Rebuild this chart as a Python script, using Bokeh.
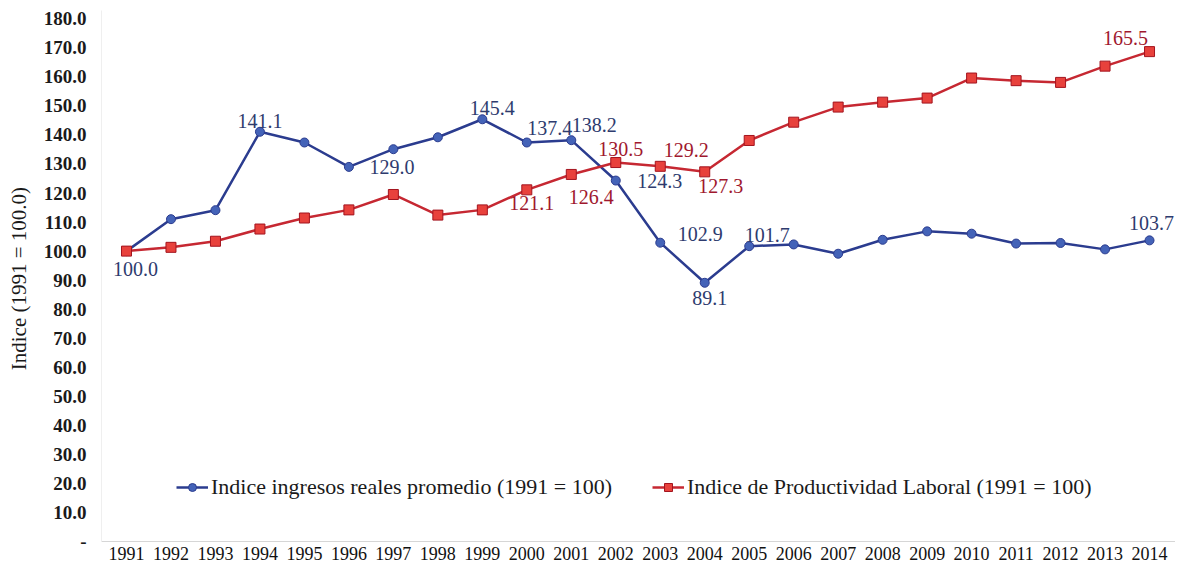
from bokeh.plotting import figure
from bokeh.models import (FixedTicker, CustomJSTickFormatter, Legend, LegendItem,
                          ColumnDataSource, Range1d)
from bokeh.core.properties import value
from bokeh.embed import file_html
from bokeh.resources import INLINE

# ---------------- data ----------------
years = list(range(1991, 2015))
ingresos = [100.0, 111.0, 114.1, 141.1, 137.4, 129.0, 135.1, 139.2, 145.4, 137.4, 138.2, 124.3,
            102.9, 89.1, 101.7, 102.3, 99.1, 103.9, 106.8, 106.0, 102.6, 102.8, 100.6, 103.7]
productividad = [100.0, 101.3, 103.4, 107.6, 111.4, 114.2, 119.5, 112.4, 114.2, 121.1, 126.4, 130.5,
                 129.2, 127.3, 138.1, 144.4, 149.6, 151.3, 152.7, 159.6, 158.7, 158.1, 163.7, 168.7]

ingresos_label_years = [1991, 1994, 1996, 1999, 2000, 2001, 2002, 2003, 2004, 2005, 2014]
ingresos_label_text = ["100.0", "141.1", "129.0", "145.4", "137.4", "138.2", "124.3", "102.9",
                       "89.1", "101.7", "103.7"]
productividad_label_years = [2000, 2001, 2002, 2003, 2004, 2014]
productividad_label_text = ["121.1", "126.4", "130.5", "129.2", "127.3", "165.5"]

y_ticks = list(range(0, 181, 10))
name_ingresos = "Indice ingresos reales promedio (1991 = 100)"
name_productividad = "Indice de Productividad Laboral (1991 = 100)"
y_title = "Indice  (1991 = 100.0)"

# ---------------- styling (pixel offsets of the value labels) ----------------
ing_dx = [9, 0, 43, 10, 23, 23, 44, 40, 5, 18, 2]
ing_dy = [18, -11, 0, -11, -15, -15, 0, -9, 15, -11, -17]
prod_dx = [5, 20, 5, 26, 16, -24]
prod_dy = [13, 23, -14, -16, 14, -14]

FONT = "'Liberation Serif', 'Times New Roman', serif"
BLUE_LINE = "#2B3C8F"
BLUE_FILL = "#4463B8"
BLUE_TEXT = "#2E3B6E"
RED_LINE = "#C62832"
RED_FILL = "#E8413C"
RED_EDGE = "#A3141E"
RED_TEXT = "#A0182E"

p = figure(width=1175, height=567, output_backend="svg", toolbar_location=None,
           x_range=Range1d(1990.438, 2014.584), y_range=Range1d(0, 182.86),
           min_border_left=101, min_border_right=0, min_border_top=10, min_border_bottom=26)
p.outline_line_color = None
p.xgrid.visible = False
p.ygrid.visible = False
p.background_fill_color = "white"

src_i = ColumnDataSource(dict(x=years, y=ingresos))
src_p = ColumnDataSource(dict(x=years, y=productividad))

l_i = p.line("x", "y", source=src_i, line_color=BLUE_LINE, line_width=2.5)
m_i = p.scatter("x", "y", source=src_i, marker="circle", size=9, fill_color=BLUE_FILL,
                line_color=BLUE_LINE, line_width=1)
l_p = p.line("x", "y", source=src_p, line_color=RED_LINE, line_width=2.5)
m_p = p.scatter("x", "y", source=src_p, marker="square", size=10, fill_color=RED_FILL,
                line_color=RED_EDGE, line_width=1)

# value labels
lab_i = ColumnDataSource(dict(
    x=ingresos_label_years,
    y=[ingresos[years.index(yr)] for yr in ingresos_label_years],
    t=ingresos_label_text, dx=ing_dx, dy=ing_dy))
lab_p = ColumnDataSource(dict(
    x=productividad_label_years,
    y=[productividad[years.index(yr)] for yr in productividad_label_years],
    t=productividad_label_text, dx=prod_dx, dy=prod_dy))
p.text("x", "y", text="t", x_offset="dx", y_offset="dy", source=lab_i,
       text_font=value(FONT), text_font_size="20px", text_color=BLUE_TEXT,
       text_align="center", text_baseline="middle")
p.text("x", "y", text="t", x_offset="dx", y_offset="dy", source=lab_p,
       text_font=value(FONT), text_font_size="20px", text_color=RED_TEXT,
       text_align="center", text_baseline="middle")

# axes
xa = p.xaxis[0]
xa.ticker = FixedTicker(ticks=years)
xa.major_label_text_font = FONT
xa.major_label_text_font_size = "18px"
xa.major_label_text_font_style = "normal"
xa.major_label_text_color = "#111111"
xa.axis_line_color = "#d6d6d6"
xa.major_tick_line_color = None
xa.minor_tick_line_color = None
xa.major_tick_out = 0
xa.minor_tick_out = 0
xa.major_tick_in = 0
xa.minor_tick_in = 0
xa.major_label_standoff = 5

ya = p.yaxis[0]
ya.ticker = FixedTicker(ticks=y_ticks)
ya.formatter = CustomJSTickFormatter(code="return tick == 0 ? '-' : tick.toFixed(1);")
ya.major_label_text_font = FONT
ya.major_label_text_font_size = "19px"
ya.major_label_text_font_style = "bold"
ya.major_label_text_color = "#1a1a1a"
ya.axis_line_color = "#efefef"
ya.major_tick_line_color = None
ya.minor_tick_line_color = None
ya.major_tick_out = 0
ya.minor_tick_out = 0
ya.major_tick_in = 0
ya.minor_tick_in = 0
ya.major_label_standoff = 15
ya.axis_label = y_title
ya.axis_label_text_font = FONT
ya.axis_label_text_font_size = "21px"
ya.axis_label_text_font_style = "normal"
ya.axis_label_text_color = "#1a1a1a"
ya.axis_label_standoff = 10

legend = Legend(items=[LegendItem(label=name_ingresos, renderers=[l_i, m_i]),
                       LegendItem(label=name_productividad, renderers=[l_p, m_p])],
                orientation="horizontal", location=(75, 41),
                border_line_color=None, background_fill_alpha=0,
                label_text_font=FONT, label_text_font_size="22px", label_text_color="#1a1a1a",
                glyph_width=32, glyph_height=20, label_standoff=3, spacing=40,
                padding=0, margin=0)
p.add_layout(legend)

open("out.html", "w").write(file_html(p, INLINE))
